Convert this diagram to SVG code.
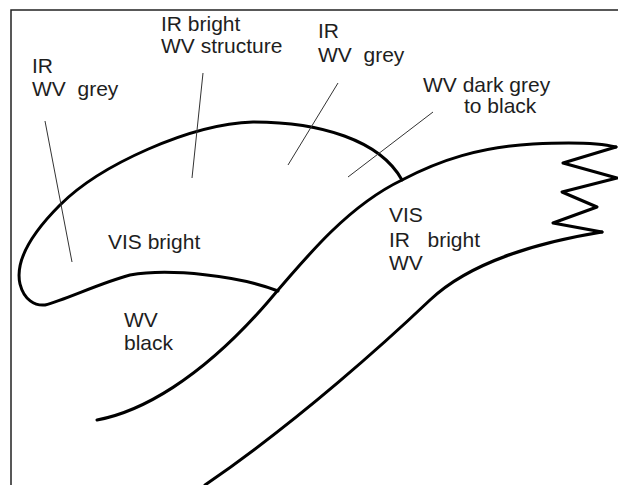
<svg xmlns="http://www.w3.org/2000/svg" width="618" height="485" viewBox="0 0 618 485">
<style>
.t{font-family:"Liberation Sans",Arial,sans-serif;font-size:21px;fill:#1e1e1e}
.thick{fill:none;stroke:#000;stroke-width:3;stroke-linecap:round;stroke-linejoin:round}
.lead{stroke:#333;stroke-width:1;fill:none}
.frame{stroke:#222;stroke-width:1.5;fill:none}
</style>
<rect width="618" height="485" fill="#fff"/>
<g id="frame"><path class="frame" d="M11,485 V10 H618"/></g>
<g id="shapes">
<path id="cloud-edge" class="thick" d="M402,180 C380,140 320,122 253,122 C190,124 100,165 60,205 C30,235 15,262 20,284 C24,300 35,306 45,305 C65,300 100,283 130,275 C170,268 240,276 278,291"/>
<path id="band-upper" class="thick" d="M97,420 C140,412 200,380 267,303 C310,252 350,205 402,180 C440,160 480,147 533,144 C570,142 600,143 616,147"/>
<path id="band-end" class="thick" d="M616,147 L563,163 L617,178 L562,192 L597,207 L553,223 L602,232"/>
<path id="band-lower" class="thick" d="M602,232 C540,242 470,262 430,300 C390,338 300,420 205,485"/>
</g>
<g id="connectors">
<line class="lead" x1="45" y1="121" x2="72" y2="262"/>
<line class="lead" x1="203" y1="73" x2="192" y2="178"/>
<line class="lead" x1="338" y1="83" x2="288" y2="165"/>
<line class="lead" x1="433" y1="112" x2="348" y2="177"/>
</g>
<g id="label-ir-wv-grey-left"><text class="t" x="32" y="73">IR</text><text class="t" x="32" y="96" xml:space="preserve">WV  grey</text></g>
<g id="label-ir-bright-wv-structure"><text class="t" x="161" y="31">IR bright</text><text class="t" x="161" y="53">WV structure</text></g>
<g id="label-ir-wv-grey-mid"><text class="t" x="318" y="38">IR</text><text class="t" x="318" y="62" xml:space="preserve">WV  grey</text></g>
<g id="label-wv-dark-grey"><text class="t" x="423" y="92">WV dark grey</text><text class="t" x="464" y="113">to black</text></g>
<g id="label-vis-bright"><text class="t" x="108" y="249">VIS bright</text></g>
<g id="label-vis-ir-wv-bright"><text class="t" x="389" y="222">VIS</text><text class="t" x="389" y="247" xml:space="preserve">IR   bright</text><text class="t" x="389" y="270">WV</text></g>
<g id="label-wv-black"><text class="t" x="124" y="327">WV</text><text class="t" x="124" y="350">black</text></g>
</svg>
